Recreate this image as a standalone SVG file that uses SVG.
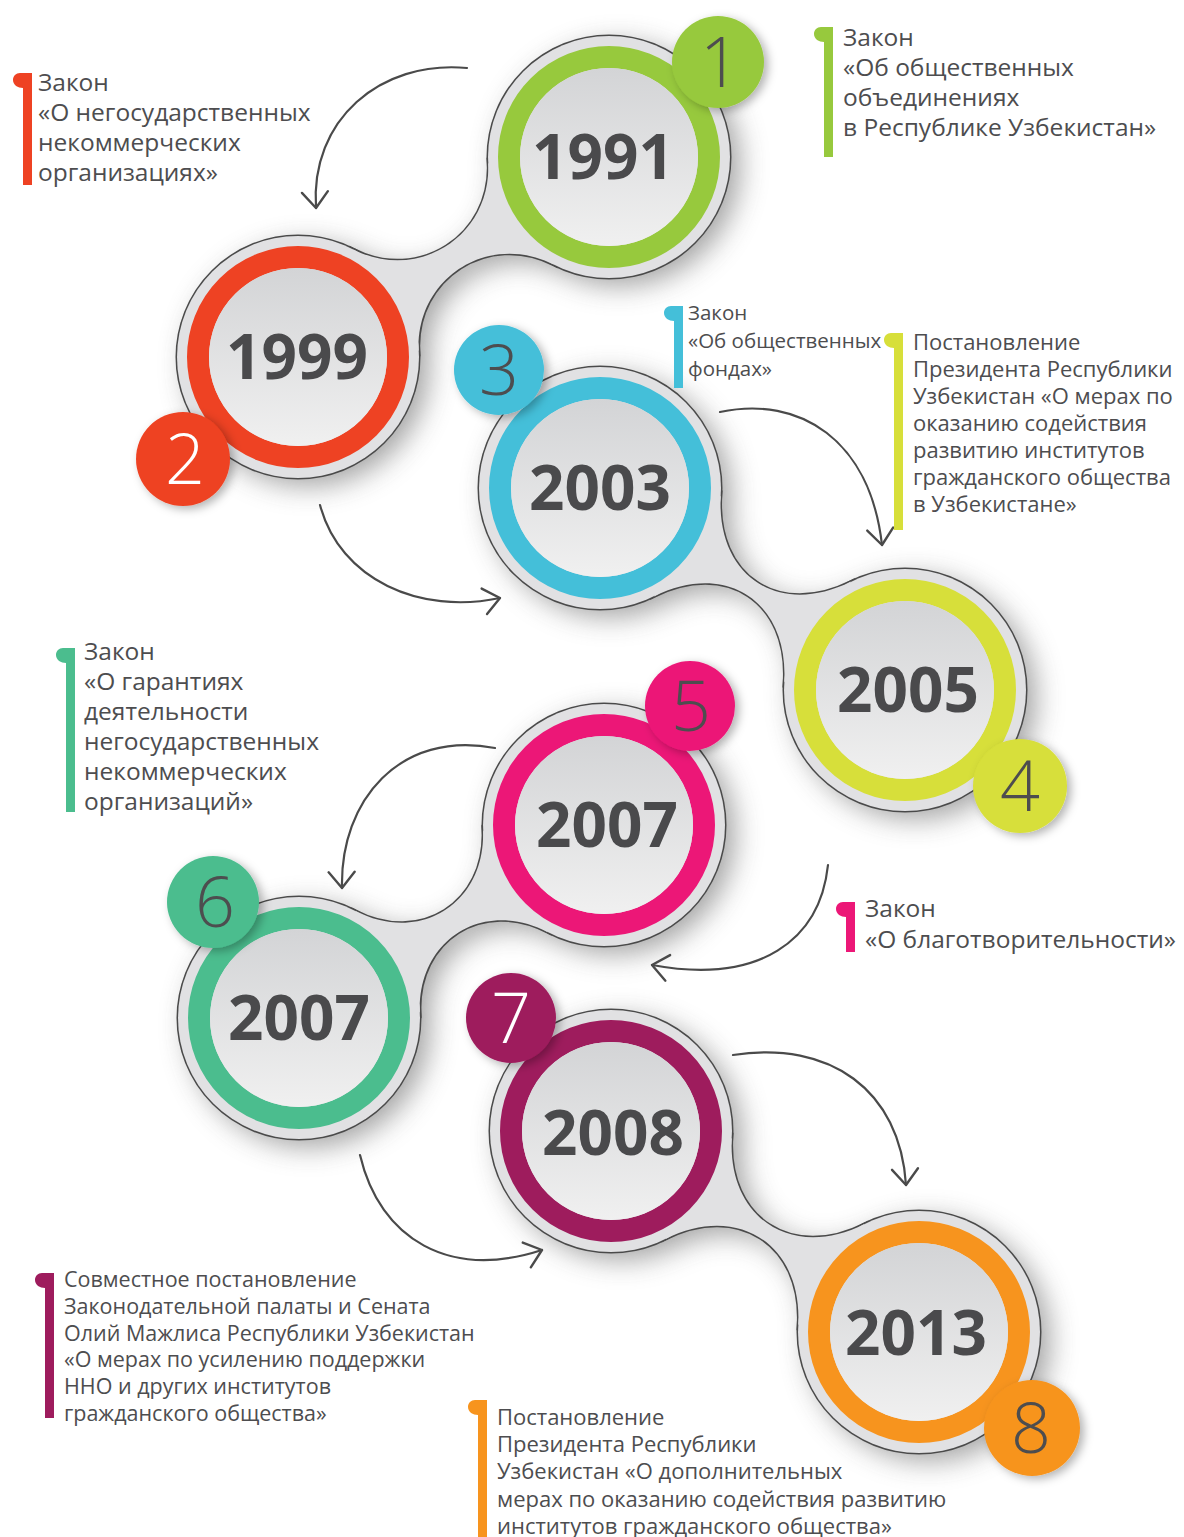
<svg xmlns="http://www.w3.org/2000/svg" xmlns:xlink="http://www.w3.org/1999/xlink" width="1184" height="1537" viewBox="0 0 1184 1537">
<defs>
<style>
.t{font-family:"Open Sans","Noto Sans","DejaVu Sans",sans-serif;fill:#4d4d4f}
.big{font-size:24.5px}
.sm{font-size:22px}
.ms{font-size:21.5px}
.xs{font-size:20.5px}
.yr{font-family:"Open Sans","Noto Sans",sans-serif;font-weight:700;font-size:62px;fill:#4a4a4c;text-anchor:middle}
.bn{font-family:"Open Sans","Noto Sans",sans-serif;font-weight:300;font-size:70px;fill:#4d4d4f;text-anchor:middle}
.bw{fill:#ffffff}
.ring{fill:none;stroke-width:22}
.disc{fill:url(#discG)}
.po{fill:#e1e1e3;stroke:#4a4a4a;stroke-width:3}
.pf{fill:#e1e1e3}
.badge{filter:url(#bsh)}
</style>
<linearGradient id="discG" x1="0" y1="0" x2="0" y2="1">
<stop offset="0" stop-color="#d3d4d6"/>
<stop offset="1" stop-color="#f0f0f0"/>
</linearGradient>
<filter id="sh" x="-20%" y="-20%" width="140%" height="140%">
<feGaussianBlur stdDeviation="14"/>
</filter>
<filter id="bsh" x="-30%" y="-30%" width="160%" height="160%">
<feDropShadow dx="4" dy="3" stdDeviation="5" flood-color="#000" flood-opacity="0.3"/>
</filter>
<marker id="arr" viewBox="0 0 20 30" refX="18" refY="15" markerWidth="20" markerHeight="30" markerUnits="userSpaceOnUse" orient="auto">
<path d="M2 2 L18 15 L2 28" fill="none" stroke="#4a4a4a" stroke-width="2.4" stroke-linecap="round" stroke-linejoin="round"/>
</marker>
<g id="plateShapes">
<circle cx="609" cy="157" r="121"/>
<circle cx="298" cy="357" r="121"/>
<circle cx="600" cy="488" r="121"/>
<circle cx="905" cy="690" r="121"/>
<circle cx="604" cy="825" r="121"/>
<circle cx="299" cy="1018" r="121"/>
<circle cx="611" cy="1131" r="121"/>
<circle cx="919" cy="1332" r="121"/>
<path d="M353.4 249.4 C418.3 282.8 491.7 235.8 488.2 162.8 L553.6 264.6 C488.7 231.2 415.3 278.2 418.8 351.2 Z"/>
<path d="M720.8 495.4 C715.9 576.1 778.7 617.7 851 581.6 L784.2 682.6 C789.1 601.9 726.3 560.3 654 596.4 Z"/>
<path d="M355.2 910.8 C420 944.7 486 903.1 483 830 L547.8 932.2 C483 898.3 417 939.9 420 1013 Z"/>
<path d="M731.8 1137.7 C727.3 1218.4 792.3 1260.6 864.4 1224.1 L798.2 1325.3 C802.7 1244.6 737.7 1202.4 665.6 1238.9 Z"/>
</g>
</defs>
<rect width="1184" height="1537" fill="#ffffff"/>

<g id="plates">
<use xlink:href="#plateShapes" href="#plateShapes" fill="#666666" opacity="0.6" filter="url(#sh)" transform="translate(10,8)"/>
<use xlink:href="#plateShapes" href="#plateShapes" class="po"/>
<use xlink:href="#plateShapes" href="#plateShapes" class="pf"/>
</g>

<g id="connectors" fill="none" stroke="#4a4a4a" stroke-width="2.2" stroke-linecap="round" marker-end="url(#arr)">
<path d="M467 68 C380 60 310 120 316 208"/>
<path d="M320 505 C340 580 420 615 500 598"/>
<path d="M720 412 C800 395 870 440 882 545"/>
<path d="M495 748 C400 730 340 800 342 888"/>
<path d="M828 865 C820 940 760 985 652 965"/>
<path d="M360 1155 C380 1240 450 1280 542 1250"/>
<path d="M733 1055 C830 1040 900 1090 906 1185"/>
</g>

<g id="node-1991">
<circle class="ring" cx="609" cy="157" r="100" stroke="#97c93d"/>
<circle class="disc" cx="609" cy="157" r="89"/>
<text class="yr" x="603" y="179">1991</text>
<circle class="badge" cx="718" cy="62" r="46" fill="#97c93d"/>
<text class="bn" x="720" y="87">1</text>
</g>

<g id="node-1999">
<circle class="ring" cx="298" cy="357" r="100" stroke="#ee4223"/>
<circle class="disc" cx="298" cy="357" r="89"/>
<text class="yr" x="297" y="379">1999</text>
<circle class="badge" cx="183" cy="459" r="47" fill="#ee4223"/>
<text class="bn bw" x="185" y="484">2</text>
</g>

<g id="node-2003">
<circle class="ring" cx="600" cy="488" r="100" stroke="#44bfd9"/>
<circle class="disc" cx="600" cy="488" r="89"/>
<text class="yr" x="600" y="510">2003</text>
<circle class="badge" cx="499" cy="370" r="45" fill="#44bfd9"/>
<text class="bn" x="499" y="395">3</text>
</g>

<g id="node-2005">
<circle class="ring" cx="905" cy="690" r="100" stroke="#d7df3a"/>
<circle class="disc" cx="905" cy="690" r="89"/>
<text class="yr" x="908" y="712">2005</text>
<circle class="badge" cx="1020" cy="786" r="47" fill="#d7df3a"/>
<text class="bn" x="1020" y="811">4</text>
</g>

<g id="node-2007a">
<circle class="ring" cx="604" cy="825" r="100" stroke="#ec1777"/>
<circle class="disc" cx="604" cy="825" r="89"/>
<text class="yr" x="607" y="847">2007</text>
<circle class="badge" cx="690" cy="706" r="45" fill="#ec1777"/>
<text class="bn" x="691" y="731">5</text>
</g>

<g id="node-2007b">
<circle class="ring" cx="299" cy="1018" r="100" stroke="#4bbd8e"/>
<circle class="disc" cx="299" cy="1018" r="89"/>
<text class="yr" x="299" y="1040">2007</text>
<circle class="badge" cx="213" cy="902" r="46" fill="#4bbd8e"/>
<text class="bn" x="215" y="927">6</text>
</g>

<g id="node-2008">
<circle class="ring" cx="611" cy="1131" r="100" stroke="#9e1c5d"/>
<circle class="disc" cx="611" cy="1131" r="89"/>
<text class="yr" x="613" y="1155">2008</text>
<circle class="badge" cx="511" cy="1018" r="45" fill="#9e1c5d"/>
<text class="bn bw" x="511" y="1043">7</text>
</g>

<g id="node-2013">
<circle class="ring" cx="919" cy="1332" r="100" stroke="#f7941e"/>
<circle class="disc" cx="919" cy="1332" r="89"/>
<text class="yr" x="916" y="1355">2013</text>
<circle class="badge" cx="1032" cy="1428" r="48" fill="#f7941e"/>
<text class="bn" x="1031" y="1453">8</text>
</g>

<g id="note-1991">
<path d="M833 27 L833 157 L824 157 L824 42 C819 42 814 39 814 34 C814 30 817 27 821 27 Z" fill="#97c93d"/>
<text class="t big"><tspan x="843" y="46">Закон</tspan><tspan x="843" y="76">«Об общественных</tspan><tspan x="843" y="106">объединениях</tspan><tspan x="843" y="136">в Республике Узбекистан»</tspan></text>
</g>

<g id="note-1999">
<path d="M32 73 L32 185 L23 185 L23 88 C18 88 13 85 13 80 C13 76 16 73 20 73 Z" fill="#ee4223"/>
<text class="t big"><tspan x="38" y="91">Закон</tspan><tspan x="38" y="121">«О негосударственных</tspan><tspan x="38" y="151">некоммерческих</tspan><tspan x="38" y="181">организациях»</tspan></text>
</g>

<g id="note-2003">
<path d="M683 306 L683 388 L674 388 L674 321 C669 321 664 318 664 313 C664 309 667 306 671 306 Z" fill="#44bfd9"/>
<text class="t xs"><tspan x="688" y="320">Закон</tspan><tspan x="688" y="348">«Об общественных</tspan><tspan x="688" y="376">фондах»</tspan></text>
</g>

<g id="note-2005">
<path d="M903 333 L903 530 L894 530 L894 348 C889 348 884 345 884 340 C884 336 887 333 891 333 Z" fill="#d7df3a"/>
<text class="t sm"><tspan x="913" y="350">Постановление</tspan><tspan x="913" y="377">Президента Республики</tspan><tspan x="913" y="404">Узбекистан «О мерах по</tspan><tspan x="913" y="431">оказанию содействия</tspan><tspan x="913" y="458">развитию институтов</tspan><tspan x="913" y="485">гражданского общества</tspan><tspan x="913" y="512">в Узбекистане»</tspan></text>
</g>

<g id="note-2007a">
<path d="M855 902 L855 952 L846 952 L846 917 C841 917 836 914 836 909 C836 905 839 902 843 902 Z" fill="#ec1777"/>
<text class="t big"><tspan x="865" y="917">Закон</tspan><tspan x="865" y="948">«О благотворительности»</tspan></text>
</g>

<g id="note-2007b">
<path d="M75 648 L75 812 L66 812 L66 663 C61 663 56 660 56 655 C56 651 59 648 63 648 Z" fill="#4bbd8e"/>
<text class="t big"><tspan x="84" y="660">Закон</tspan><tspan x="84" y="690">«О гарантиях</tspan><tspan x="84" y="720">деятельности</tspan><tspan x="84" y="750">негосударственных</tspan><tspan x="84" y="780">некоммерческих</tspan><tspan x="84" y="810">организаций»</tspan></text>
</g>

<g id="note-2008">
<path d="M54 1273 L54 1418 L45 1418 L45 1288 C40 1288 35 1285 35 1280 C35 1276 38 1273 42 1273 Z" fill="#9e1c5d"/>
<text class="t ms"><tspan x="64" y="1287">Совместное постановление</tspan><tspan x="64" y="1314">Законодательной палаты и Сената</tspan><tspan x="64" y="1341">Олий Мажлиса Республики Узбекистан</tspan><tspan x="64" y="1367">«О мерах по усилению поддержки</tspan><tspan x="64" y="1394">ННО и других институтов</tspan><tspan x="64" y="1421">гражданского общества»</tspan></text>
</g>

<g id="note-2013">
<path d="M487 1400 L487 1537 L478 1537 L478 1415 C473 1415 468 1412 468 1407 C468 1403 471 1400 475 1400 Z" fill="#f7941e"/>
<text class="t sm"><tspan x="497" y="1425">Постановление</tspan><tspan x="497" y="1452">Президента Республики</tspan><tspan x="497" y="1479">Узбекистан «О дополнительных</tspan><tspan x="497" y="1507">мерах по оказанию содействия развитию</tspan><tspan x="497" y="1534">институтов гражданского общества»</tspan></text>
</g>
</svg>
